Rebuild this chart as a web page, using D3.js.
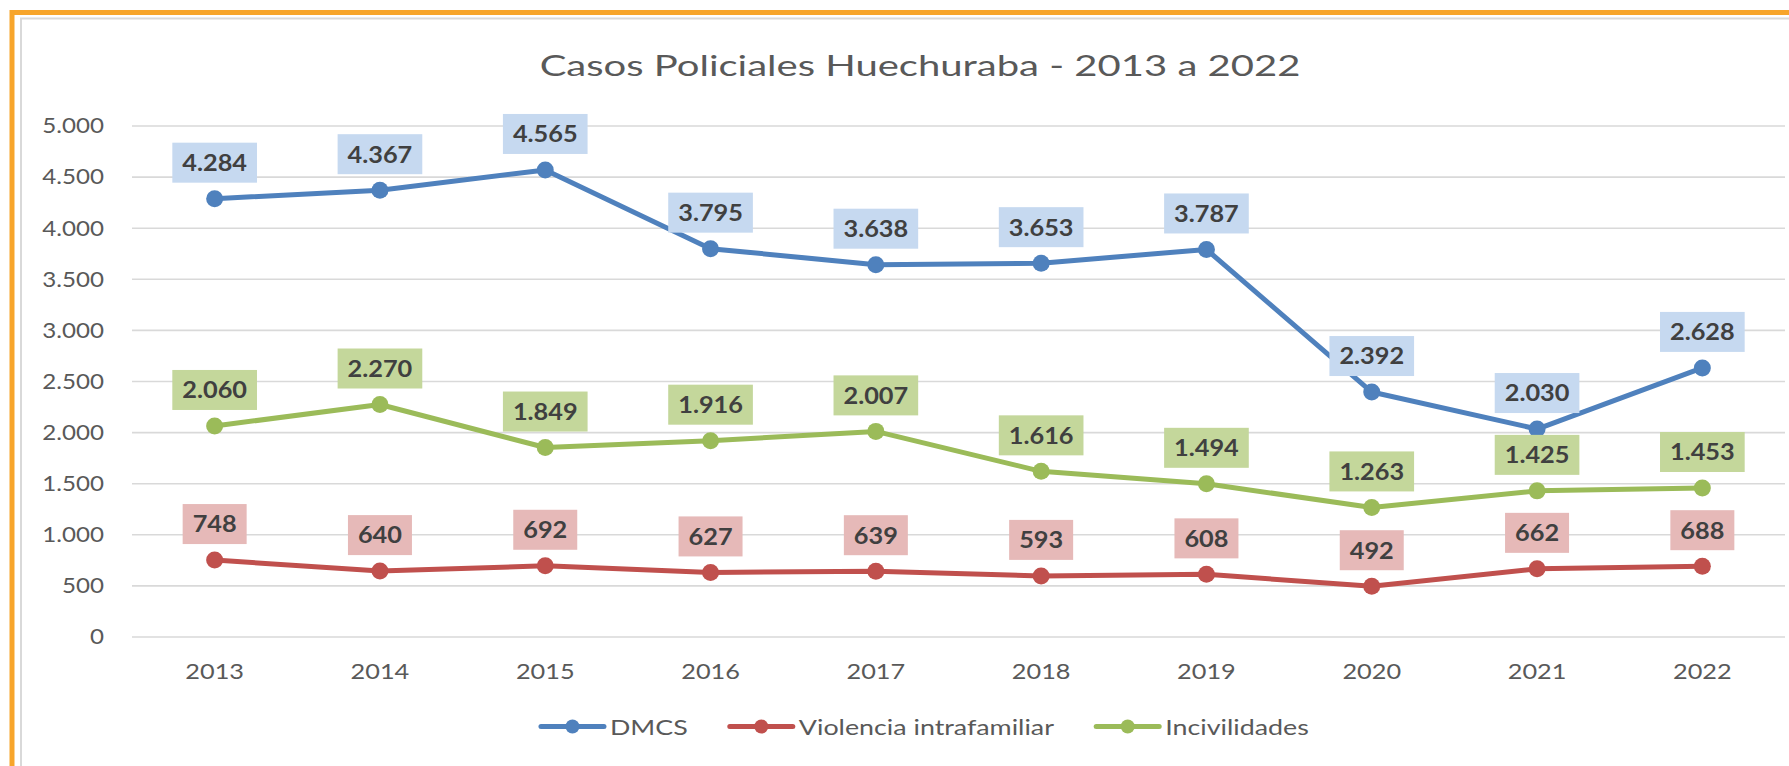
<!DOCTYPE html>
<html>
<head>
<meta charset="utf-8">
<script src="https://cdn.jsdelivr.net/npm/d3@7"></script>
<style>
  html, body { margin: 0; padding: 0; background: #fff; }
  svg { display: block; font-family: Lato, "Open Sans", sans-serif; }
</style>
</head>
<body>
<div id="chart"></div>
<script>
// ── DATA ──────────────────────────────────────────────────────
const years = ["2013", "2014", "2015", "2016", "2017", "2018", "2019", "2020", "2021", "2022"];
const dmcs = [4284, 4367, 4565, 3795, 3638, 3653, 3787, 2392, 2030, 2628];
const violencia = [748, 640, 692, 627, 639, 593, 608, 492, 662, 688];
const incivilidades = [2060, 2270, 1849, 1916, 2007, 1616, 1494, 1263, 1425, 1453];
const yTicks = [0, 500, 1000, 1500, 2000, 2500, 3000, 3500, 4000, 4500, 5000];
const seriesNames = ["DMCS", "Violencia intrafamiliar", "Incivilidades"];
const title = "Casos Policiales Huechuraba - 2013 a 2022";

const series = [
  { name: seriesNames[0], values: dmcs,          color: "#4f81bd", box: "#c6d9f0" },
  { name: seriesNames[1], values: violencia,     color: "#c0504d", box: "#e6b9b8" },
  { name: seriesNames[2], values: incivilidades, color: "#9bbb59", box: "#c4d79b" }
];

// ── DIMENSIONS ────────────────────────────────────────────────
const W = 1789, H = 766;
const plot = { left: 132, right: 1785, top: 125.5, bottom: 636.5 };
const sx = 1.15;          // the source picture is stretched sideways
const textColor = "#595959";

const svg = d3.select("#chart").append("svg")
  .attr("width", W).attr("height", H);

// frame: orange border + light grey chart area edge
svg.append("rect")
  .attr("x", 12).attr("y", 12.5).attr("width", W + 20).attr("height", H + 20)
  .attr("fill", "none").attr("stroke", "#f7a52b").attr("stroke-width", 5);
svg.append("rect")
  .attr("x", 21).attr("y", 18.5).attr("width", W + 20).attr("height", H + 20)
  .attr("fill", "#fff").attr("stroke", "#d9d9d9").attr("stroke-width", 2);

// ── SCALES ────────────────────────────────────────────────────
const x = d3.scaleBand().domain(years).range([plot.left, plot.right]);
const cx = d => x(d) + x.bandwidth() / 2;
const y = d3.scaleLinear().domain([0, 5000]).range([plot.bottom, plot.top]);

const es = d3.formatLocale({ decimal: ",", thousands: ".", grouping: [3], currency: ["$", ""] });
const fmt = es.format(",");

// ── TITLE ─────────────────────────────────────────────────────
svg.append("text")
  .attr("text-anchor", "middle")
  .attr("font-size", 29)
  .attr("fill", textColor)
  .attr("transform", `translate(920,76) scale(1.38,1)`)
  .text(title);

// ── GRID + Y AXIS ─────────────────────────────────────────────
const yAxis = svg.append("g")
  .attr("transform", `translate(${plot.left},0)`)
  .call(d3.axisLeft(y).tickValues(yTicks).tickFormat("")
    .tickSize(-(plot.right - plot.left)));
yAxis.select(".domain").remove();
yAxis.selectAll(".tick line").attr("stroke", "#d9d9d9").attr("stroke-width", 1.6);

// tick labels drawn by hand so they can be stretched like the source
svg.append("g").selectAll("text")
  .data(yTicks)
  .join("text")
    .attr("font-size", 21)
    .attr("fill", textColor)
    .attr("text-anchor", "end")
    .attr("dominant-baseline", "central")
    .attr("transform", d => `translate(104,${y(d)}) scale(${sx},1)`)
    .text(d => fmt(d));

// ── X AXIS ────────────────────────────────────────────────────
svg.append("g").selectAll("text")
  .data(years)
  .join("text")
    .attr("font-size", 22)
    .attr("fill", textColor)
    .attr("text-anchor", "middle")
    .attr("dominant-baseline", "central")
    .attr("transform", d => `translate(${cx(d)},${plot.bottom + 34}) scale(${sx},1)`)
    .text(d => d);

// ── LINES + MARKERS ───────────────────────────────────────────
const line = d3.line()
  .x((d, i) => cx(years[i]))
  .y(d => y(d));

series.forEach(s => {
  svg.append("path")
    .datum(s.values)
    .attr("d", line)
    .attr("fill", "none")
    .attr("stroke", s.color)
    .attr("stroke-width", 5)
    .attr("stroke-linejoin", "round");

  svg.append("g").selectAll("circle")
    .data(s.values)
    .join("circle")
      .attr("cx", (d, i) => cx(years[i]))
      .attr("cy", d => y(d))
      .attr("r", 8.5)
      .attr("fill", s.color);
});

// ── DATA LABELS ───────────────────────────────────────────────
series.forEach(s => {
  const g = svg.append("g").selectAll("g")
    .data(s.values)
    .join("g")
      .attr("transform", (d, i) => `translate(${cx(years[i])},${y(d) - 36})`);

  g.append("text")
    .attr("text-anchor", "middle")
    .attr("dominant-baseline", "central")
    .attr("font-size", 22)
    .attr("font-weight", "bold")
    .attr("fill", "#404040")
    .attr("transform", `scale(${sx},1)`)
    .text(d => fmt(d));

  g.insert("rect", "text")
    .each(function() {
      const w = this.nextSibling.getComputedTextLength() * sx + 20;
      d3.select(this)
        .attr("x", -w / 2).attr("y", -20)
        .attr("width", w).attr("height", 40);
    })
    .attr("fill", s.box);
});

// ── LEGEND ────────────────────────────────────────────────────
const legendY = 726.5, lineLen = 63, textGap = 6, itemGap = 42, lsx = 1.22;
const legend = svg.append("g");
const items = legend.selectAll("g")
  .data(series)
  .join("g");

items.append("text")
  .attr("font-size", 22)
  .attr("fill", textColor)
  .attr("dominant-baseline", "central")
  .text(d => d.name);

let offset = 0;
items.each(function(d) {
  const gi = d3.select(this);
  const tw = gi.select("text").node().getComputedTextLength() * lsx;
  gi.attr("transform", `translate(${offset},${legendY})`);
  gi.append("line")
    .attr("x1", 0).attr("x2", lineLen)
    .attr("stroke", d.color).attr("stroke-width", 5).attr("stroke-linecap", "round");
  gi.append("circle")
    .attr("cx", lineLen / 2).attr("r", 7).attr("fill", d.color);
  gi.select("text")
    .attr("transform", `translate(${lineLen + textGap},0) scale(${lsx},1)`);
  offset += lineLen + textGap + tw + itemGap;
});
const legendW = offset - itemGap;
legend.attr("transform", `translate(${925 - legendW / 2},0)`);
</script>
</body>
</html>
